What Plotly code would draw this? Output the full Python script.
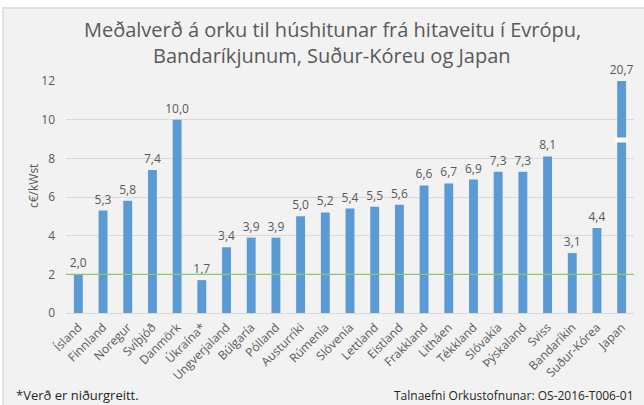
import plotly.graph_objects as go

countries = ["Ísland", "Finnland", "Noregur", "Svíþjóð", "Danmörk", "Úkraína*", "Ungverjaland",
             "Búlgaría", "Pólland", "Austurríki", "Rúmenía", "Slóvenía", "Lettland", "Eistland",
             "Frakkland", "Litháen", "Tékkland", "Slóvakía", "Þýskaland", "Sviss", "Bandaríkin",
             "Suður-Kórea", "Japan"]
values = [2.0, 5.3, 5.8, 7.4, 10.0, 1.7, 3.4, 3.9, 3.9, 5.0, 5.2, 5.4, 5.5, 5.6,
          6.6, 6.7, 6.9, 7.3, 7.3, 8.1, 3.1, 4.4, 20.7]
y_max = 12
y_ticks = [0, 2, 4, 6, 8, 10, 12]
reference_value = values[0]  # Ísland
break_band = [8.82, 9.08]  # axis break on the Japan bar

shown = [min(v, y_max) for v in values]
labels = [f"{v:.1f}".replace(".", ",") for v in values]

font = "'Open Sans', sans-serif"
L, R, T, B = 66, 10, 81, 92
PW, PH = 644 - L - R, 405 - T - B


def px(x):
    return (x - L) / PW


def py(y):
    return (405 - B - y) / PH


fig = go.Figure()
fig.add_trace(go.Bar(
    x=countries, y=shown, text=labels, textposition="outside",
    texttemplate="%{text}", cliponaxis=False, constraintext="none",
    marker=dict(color="#5b9bd5", line=dict(width=0)),
    textfont=dict(size=12, color="#595959", family=font),
    hoverinfo="skip",
))

fig.update_layout(
    width=644, height=405,
    paper_bgcolor="white", plot_bgcolor="#f2f2f2",
    margin=dict(l=L, r=R, t=T, b=B, autoexpand=False),
    bargap=0.64, showlegend=False,
    font=dict(family=font, color="#595959"),
    xaxis=dict(tickangle=-45, tickfont=dict(size=12, color="#595959"),
               showgrid=False, showline=False, ticks="", zeroline=False, automargin=False,
               ticklabelstandoff=4),
    yaxis=dict(range=[0, y_max], tickvals=y_ticks, showgrid=True, gridcolor="#d9d9d9",
               gridwidth=1, zeroline=True, zerolinecolor="#d9d9d9", zerolinewidth=1,
               tickfont=dict(size=12, color="#595959"), ticks="", ticklen=0, automargin=False,
               ticklabelstandoff=10),
)

# chart background frame
fig.add_shape(type="rect", xref="paper", yref="paper", layer="below",
              x0=px(3), x1=px(660), y0=py(420), y1=py(8),
              fillcolor="#f2f2f2", line=dict(color="#d9d9d9", width=1.5))

# reference line at Iceland's value
fig.add_shape(type="line", xref="paper", yref="y", x0=0, x1=1,
              y0=reference_value, y1=reference_value,
              line=dict(color="#8cc866", width=1.3))

# axis break on Japan bar
fig.add_shape(type="rect", xref="x", yref="y",
              x0=len(countries) - 1 - 0.26, x1=len(countries) - 1 + 0.26,
              y0=break_band[0], y1=break_band[1],
              fillcolor="white", line=dict(width=0))

# title
fig.add_annotation(text="Meðalverð á orku til húshitunar frá hitaveitu í Evrópu,", xref="paper",
                   yref="paper", x=px(332), y=py(30), xanchor="center", yanchor="middle",
                   showarrow=False, font=dict(size=20, color="#595959", family=font))
fig.add_annotation(text="Bandaríkjunum, Suður-Kóreu og Japan", xref="paper",
                   yref="paper", x=px(332), y=py(56), xanchor="center", yanchor="middle",
                   showarrow=False, font=dict(size=20, color="#595959", family=font))

# y axis title
fig.add_annotation(text="c€/kWst", xref="paper", yref="paper", x=px(33), y=py(186),
                   xanchor="center", yanchor="middle", textangle=-90, showarrow=False,
                   font=dict(size=12, color="#595959", family=font))

fig.add_annotation(text="*Verð er niðurgreitt.", xref="paper", yref="paper",
                   x=px(14), y=py(395), xanchor="left", yanchor="middle",
                   showarrow=False, font=dict(size=13, color="#262626", family=font))
fig.add_annotation(text="Talnaefni Orkustofnunar: OS-2016-T006-01", xref="paper", yref="paper",
                   x=px(636), y=py(395), xanchor="right", yanchor="middle",
                   showarrow=False, font=dict(size=12, color="#262626", family=font))

fig.write_html("out.html", config={"displayModeBar": False},
               post_script="document.body.style.margin='0';")
